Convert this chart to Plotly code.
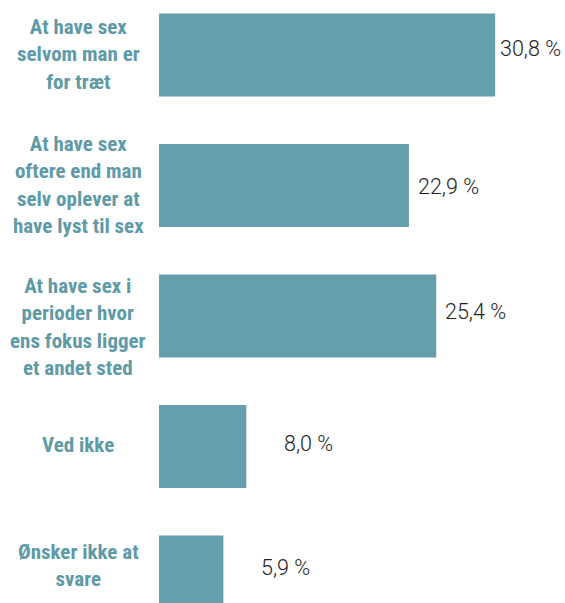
import plotly.graph_objects as go

categories = [
    "At have sex<br>selvom man er<br>for træt",
    "At have sex<br>oftere end man<br>selv oplever at<br>have lyst til sex",
    "At have sex i<br>perioder hvor<br>ens fokus ligger<br>et andet sted",
    "Ved ikke",
    "Ønsker ikke at<br>svare",
]
values = [30.8, 22.9, 25.4, 8.0, 5.9]
value_labels = ["30,8 %", "22,9 %", "25,4 %", "8,0 %", "5,9 %"]

# style: per-label offsets (pixels)
value_xshift = [3, 7, 7, 36, 36]
value_yshift = [7, -1, 5, 3, 10]
cat_yshift = [1, 1, -11, 2, 12]

ypos = list(range(len(categories)))

BAR = "#669fac"
LABEL = "#5e9aa7"

fig = go.Figure(go.Bar(
    x=values, y=ypos, orientation="h",
    marker=dict(color=BAR, line=dict(width=0)),
    width=0.635, hoverinfo="skip",
))

ann = []
for i in range(len(categories)):
    ann.append(dict(
        x=-0.1995, xref="paper", y=ypos[i], yref="y",
        text=categories[i], showarrow=False, xanchor="center", yanchor="middle",
        align="center", yshift=cat_yshift[i],
        font=dict(family="Roboto Condensed, sans-serif",
                  size=21, color=LABEL, weight="bold"),
    ))
    ann.append(dict(
        x=values[i], xref="x", y=ypos[i], yref="y",
        text=value_labels[i], showarrow=False, xanchor="left", yanchor="middle",
        xshift=value_xshift[i], yshift=value_yshift[i],
        font=dict(family="Roboto, sans-serif", size=21.5, color="#222222", weight=300),
    ))

fig.update_layout(
    width=565, height=603,
    margin=dict(l=159, r=0, t=0, b=0),
    paper_bgcolor="white", plot_bgcolor="white",
    showlegend=False,
    annotations=ann,
    xaxis=dict(range=[0, 37.2], visible=False, fixedrange=True),
    yaxis=dict(range=[4.199, -0.4215], visible=False, fixedrange=True),
)

fig.write_html("out.html", config={"displayModeBar": False},
               post_script="document.body.style.margin='0';document.body.style.overflow='hidden';")
